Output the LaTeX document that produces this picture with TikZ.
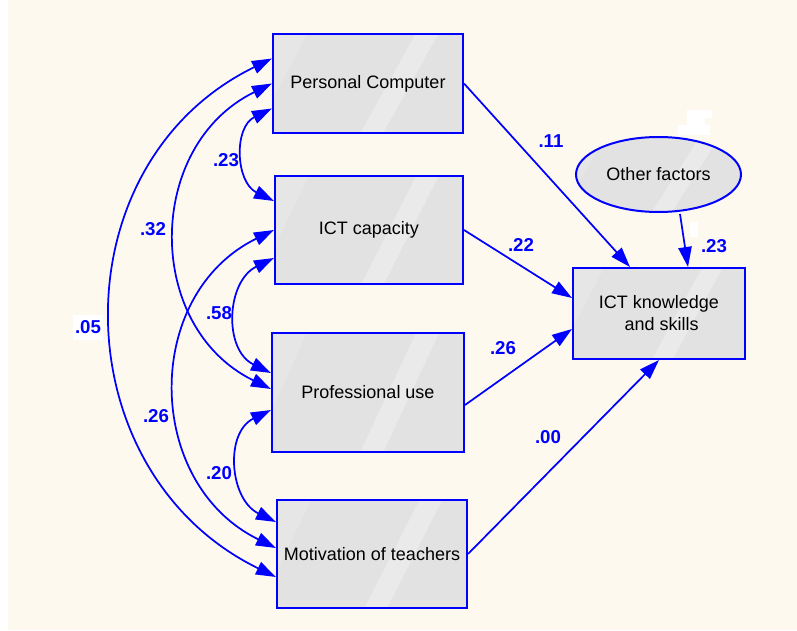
\documentclass[tikz,border=0pt]{standalone}
\usepackage{fontspec}
\setmainfont{Liberation Sans}
\usetikzlibrary{arrows.meta,calc,shapes.geometric}

\definecolor{paper}{RGB}{254,249,239}
\definecolor{amosblue}{RGB}{0,0,255}
\definecolor{boxgrey}{RGB}{226,226,226}
\definecolor{boxshine}{RGB}{234,234,234}

\tikzset{every picture/.style={line width=0.75pt}}
\tikzset{
	glossy/.style={path picture={
			\coordinate (nw) at (path picture bounding box.north west);
			\coordinate (ne) at (path picture bounding box.north east);
			\coordinate (sw) at (path picture bounding box.south west);
			\coordinate (se) at (path picture bounding box.south east);
			\fill[boxshine!50!boxgrey] (nw) -- ($(nw)!.18!(ne)$) -- ($(nw)!.65!(sw)$) -- cycle;
			\fill[boxshine] ($(nw)!.75!(ne)$) -- ($(nw)!.87!(ne)$) -- ($(sw)!.58!(se)$) -- ($(sw)!.46!(se)$) -- cycle;
	}},
	varbox/.style={rectangle, draw=amosblue, line width=1.5pt, fill=boxgrey, glossy, inner sep=0pt, align=center, font=\fontsize{13.5}{16.5}\selectfont},
	errball/.style={ellipse, draw=amosblue, line width=1.5pt, fill=boxgrey, glossy, inner sep=0pt, font=\fontsize{13.5}{16.5}\selectfont},
	link/.style={draw=amosblue, line width=1.3pt, -{Triangle[length=15pt,width=10pt]}},
	corr/.style={draw=amosblue, line width=1.3pt, {Triangle[length=15pt,width=10pt]}-{Triangle[length=15pt,width=10pt]}},
	coef/.style={text=amosblue, inner sep=0.75pt, font=\fontsize{14}{16}\selectfont\bfseries}
}

\begin{document}
\begin{tikzpicture}[x=0.75pt,y=0.75pt,yscale=-1,xscale=1]
		\useasboundingbox (0,0) rectangle (797,631);
		
		%Shape: Rectangle [background]
		\fill[white] (0,0) rectangle (797,631);
		\fill[paper] (8,0) rectangle (797,630);
		%Shape: white patches near the error term
		\fill[white] (687,110) rectangle (712,118);
		\fill[white] (687,118) rectangle (705,125);
		\fill[white] (678,125) rectangle (710,135);
		\fill[white] (690,222) rectangle (698,237);
		
		%Shape: Rectangle [observed variables]
		\node[varbox, minimum width=142.5pt, minimum height=74.25pt] (pc) at (368,83.5) {Personal Computer};
		\node[varbox, minimum width=141pt, minimum height=81pt] (cap) at (369,230) {ICT capacity};
		\node[varbox, minimum width=144pt, minimum height=89.25pt] (pro) at (368,392.5) {Professional use};
		\node[varbox, minimum width=142.5pt, minimum height=81pt] (mot) at (372,554) {Motivation of teachers};
		\node[varbox, minimum width=129pt, minimum height=68.25pt] (know) at (659,313.5) {ICT knowledge\\ \hspace{4pt}and skills};
		%Shape: Ellipse [error term]
		\node[errball, minimum width=123.75pt, minimum height=56.25pt] (other) at (658.5,174.5) {Other factors};
		
		%Straight Lines [regression paths]
		\draw[link] (pc.east) -- ($(know.north)+(-29,0)$);
		\draw[link] (cap.east) -- ($(know.west)+(0,-15.5)$);
		\draw[link] ($(pro.east)+(0,12.5)$) -- ($(know.west)+(0,15.5)$);
		\draw[link] (mot.east) -- (know.south);
		\draw[link] ($(other.south)+(21.5,1)$) -- ($(know.north)+(29,0)$);
		
		%Curve Lines [covariances]
		\draw[corr] ($(pc.west)+(0,-25)$) .. controls +(-215.6,105.1) and +(-215.6,-105.1) .. ($(mot.west)+(0,23)$);
		\draw[corr] (pc.west) .. controls +(-127,62) and +(-127,-62) .. ($(pro.west)+(0,-3.5)$);
		\draw[corr] ($(pc.west)+(0,25)$) .. controls +(-38.5,18.8) and +(-38.5,-18.8) .. ($(cap.west)+(0,-29)$);
		\draw[corr] (cap.west) .. controls +(-132,64.5) and +(-132,-64.5) .. ($(mot.west)+(0,-6)$);
		\draw[corr] ($(cap.west)+(0,28)$) .. controls +(-47.8,23.3) and +(-47.8,-23.3) .. ($(pro.west)+(0,-19.5)$);
		\draw[corr] ($(pro.west)+(0,17.5)$) .. controls +(-46.6,22.7) and +(-46.6,-22.7) .. ($(mot.west)+(0,-32)$);
		
		%Labels [estimates]
		\node[coef] (b11) at (551,141) {.11};
		\node[coef] (b22) at (521,245) {.22};
		\node[coef] (b26) at (503,348) {.26};
		\node[coef] (b00) at (548,437) {.00};
		\node[coef] (b23) at (714,246) {.23};
		\node[coef] (r23) at (226,160) {.23};
		\node[coef] (r32) at (153,229) {.32};
		\node[coef, fill=white, minimum width=22.5pt, minimum height=18.75pt] (r05) at (88,327.5) {.05};
		\node[coef] (r58) at (219,313) {.58};
		\node[coef] (r26) at (156,416) {.26};
		\node[coef] (r20) at (219,473) {.20};
		
	\end{tikzpicture}
\end{document}
